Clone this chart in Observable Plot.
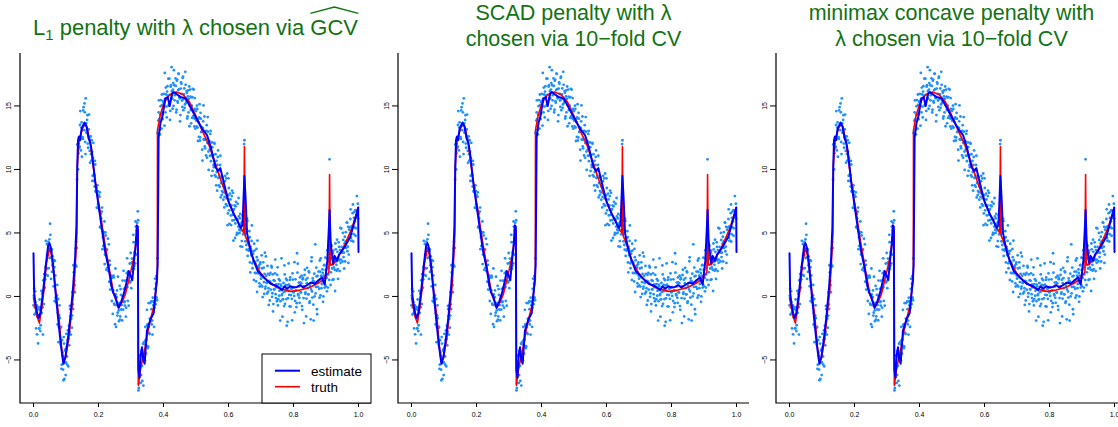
<!DOCTYPE html>
<html><head><meta charset="utf-8">
<script src="https://cdn.jsdelivr.net/npm/d3@7"></script>
<script src="https://cdn.jsdelivr.net/npm/@observablehq/plot@0.6"></script>
<style>
html,body{margin:0;padding:0;background:#fff;}
#wrap{position:relative;width:1118px;height:427px;overflow:hidden;font-family:"Liberation Sans",Arial,sans-serif;background:#fff;}
</style></head><body>
<div id="wrap"></div>
<script>
// ---------- data: observations (odd design points) ----------
const ptsX = [
.001,.003,.005,.007,.009,.011,.013,.015,.017,.019,
.021,.023,.025,.027,.029,.031,.033,.035,.037,.039,
.041,.043,.045,.047,.049,.051,.053,.055,.057,.059,
.061,.063,.065,.067,.069,.071,.073,.075,.077,.079,
.081,.083,.085,.087,.089,.091,.093,.095,.097,.099,
.101,.103,.105,.107,.109,.111,.113,.115,.117,.119,
.121,.123,.125,.127,.129,.131,.133,.135,.137,.139,
.141,.143,.145,.147,.149,.151,.153,.155,.157,.159,
.161,.163,.165,.167,.169,.171,.173,.175,.177,.179,
.181,.183,.185,.187,.189,.191,.193,.195,.197,.199,
.201,.203,.205,.207,.209,.211,.213,.215,.217,.219,
.221,.223,.225,.227,.229,.231,.233,.235,.237,.239,
.241,.243,.245,.247,.249,.251,.253,.255,.257,.259,
.261,.263,.265,.267,.269,.271,.273,.275,.277,.279,
.281,.283,.285,.287,.289,.291,.293,.295,.297,.299,
.301,.303,.305,.307,.309,.311,.313,.315,.317,.319,
.321,.323,.325,.327,.329,.331,.333,.335,.337,.339,
.341,.343,.345,.347,.349,.351,.353,.355,.357,.359,
.361,.363,.365,.367,.369,.371,.373,.375,.377,.379,
.381,.383,.385,.387,.389,.391,.393,.395,.397,.399,
.401,.403,.405,.407,.409,.411,.413,.415,.417,.419,
.421,.423,.425,.427,.429,.431,.433,.435,.437,.439,
.441,.443,.445,.447,.449,.451,.453,.455,.457,.459,
.461,.463,.465,.467,.469,.471,.473,.475,.477,.479,
.481,.483,.485,.487,.489,.491,.493,.495,.497,.499,
.501,.503,.505,.507,.509,.511,.513,.515,.517,.519,
.521,.523,.525,.527,.529,.531,.533,.535,.537,.539,
.541,.543,.545,.547,.549,.551,.553,.555,.557,.559,
.561,.563,.565,.567,.569,.571,.573,.575,.577,.579,
.581,.583,.585,.587,.589,.591,.593,.595,.597,.599,
.601,.603,.605,.607,.609,.611,.613,.615,.617,.619,
.621,.623,.625,.627,.629,.631,.633,.635,.637,.639,
.641,.643,.645,.647,.649,.651,.653,.655,.657,.659,
.661,.663,.665,.667,.669,.671,.673,.675,.677,.679,
.681,.683,.685,.687,.689,.691,.693,.695,.697,.699,
.701,.703,.705,.707,.709,.711,.713,.715,.717,.719,
.721,.723,.725,.727,.729,.731,.733,.735,.737,.739,
.741,.743,.745,.747,.749,.751,.753,.755,.757,.759,
.761,.763,.765,.767,.769,.771,.773,.775,.777,.779,
.781,.783,.785,.787,.789,.791,.793,.795,.797,.799,
.801,.803,.805,.807,.809,.811,.813,.815,.817,.819,
.821,.823,.825,.827,.829,.831,.833,.835,.837,.839,
.841,.843,.845,.847,.849,.851,.853,.855,.857,.859,
.861,.863,.865,.867,.869,.871,.873,.875,.877,.879,
.881,.883,.885,.887,.889,.891,.893,.895,.897,.899,
.901,.903,.905,.907,.909,.911,.913,.915,.917,.919,
.921,.923,.925,.927,.929,.931,.933,.935,.937,.939,
.941,.943,.945,.947,.949,.951,.953,.955,.957,.959,
.961,.963,.965,.967,.969,.971,.973,.975,.977,.979,
.981,.983,.985,.987,.989,.991,.993,.995,.997,.999];
const ptsY = [
0.06,-1.42,0.4,-1.28,-0.76,-2.98,-1.63,-0.98,-2.53,-0.24,
-2.73,-0.91,-1.3,0.23,-3.0,0.49,1.76,0.69,2.31,2.24,
4.13,2.2,3.27,2.23,4.5,5.73,3.07,3.6,1.93,3.16,
1.99,2.85,-0.35,1.65,-0.45,0.0,0.9,-1.3,-3.6,-1.5,
-1.7,-3.6,-2.4,-5.37,-4.41,-5.76,-3.2,-6.5,-4.26,-6.19,
-2.94,-4.73,-3.42,-5.51,-2.3,-2.8,-1.0,-3.0,-0.7,-1.51,
-0.63,2.46,1.24,0.33,2.51,4.3,3.82,11.98,10.01,12.04,
11.7,13.5,12.4,13.3,11.0,12.55,14.65,13.45,15.2,12.16,
15.6,12.89,13.9,12.04,12.58,14.32,11.46,12.3,11.2,12.3,
9.1,10.9,9.1,9.54,10.67,8.31,8.75,6.98,8.75,7.25,
6.95,7.85,5.45,6.52,5.36,7.0,5.14,3.98,5.05,2.55,
5.05,3.25,3.65,2.25,4.55,2.25,1.16,2.48,1.1,1.42,
-0.36,1.56,0.48,1.5,-0.65,-2.19,0.16,-0.69,0.47,-1.28,
-0.63,-1.95,0.84,-1.57,0.12,-0.68,-1.89,0.0,2.02,-0.45,
-0.72,0.7,-0.89,1.83,0.74,1.95,-0.73,1.88,1.09,3.42,
0.65,2.98,2.22,4.85,2.18,3.5,2.6,5.5,4.1,5.8,
6.7,-7.4,-6.83,-4.66,-5.59,-6.19,-4.37,-6.65,-3.73,-4.81,
-3.75,-5.05,-3.45,-3.85,-1.05,-2.18,-3.94,-2.4,-2.96,-0.52,
-1.8,-1.0,-1.9,-0.1,-0.7,-2.4,0.6,-0.1,1.0,-0.1,
3.0,12.81,14.49,13.98,12.76,14.98,14.34,15.9,13.96,15.32,
15.95,13.45,15.55,16.45,14.95,16.13,15.59,17.15,15.01,15.87,
14.61,16.63,18.05,15.57,16.29,15.01,16.63,15.85,17.17,14.49,
16.99,15.37,16.25,17.53,15.71,13.79,16.37,16.75,15.43,17.21,
14.67,15.91,14.85,17.69,15.23,16.17,14.01,15.75,14.49,16.53,
15.05,15.74,13.63,15.02,15.7,14.2,16.29,13.38,14.77,13.96,
13.84,15.02,13.3,13.98,12.56,15.14,12.52,14.0,12.98,11.56,
13.25,15.04,12.33,11.82,13.01,11.1,13.49,12.08,12.97,9.96,
12.23,11.08,13.03,11.08,12.13,9.88,11.13,10.18,12.03,10.38,
9.43,10.68,8.33,10.98,9.33,9.88,8.63,11.08,8.93,7.98,
9.43,8.19,8.65,7.01,9.07,8.13,9.29,7.15,5.61,7.97,
8.54,5.72,8.1,6.38,7.16,8.34,6.42,4.4,6.88,7.16,
5.75,7.45,4.85,6.05,4.95,7.75,5.25,6.15,3.95,5.65,
4.36,6.37,4.89,5.6,12.3,4.9,5.57,4.05,6.12,3.19,
4.56,3.72,4.66,1.89,3.73,4.37,2.61,3.54,2.78,4.15,
1.86,2.57,1.18,3.09,4.4,1.81,2.42,1.03,2.54,1.65,
0.87,2.21,-0.05,2.69,1.13,1.77,0.61,3.15,1.09,0.23,
1.78,0.65,1.22,-0.32,1.85,1.02,2.28,0.25,-1.18,1.28,
0.55,1.82,0.18,0.95,-0.38,2.29,-0.22,1.36,0.45,-1.9,
0.92,3.0,0.19,-0.23,1.06,-0.76,1.73,0.41,1.4,-2.3,
0.87,-0.15,2.6,0.12,1.31,-0.8,0.61,-0.19,1.82,0.33,
0.34,2.7,-0.35,0.46,-0.84,3.4,2.58,0.08,0.79,-0.5,
1.11,0.32,1.63,-1.05,1.46,-0.13,0.79,2.1,0.31,-1.57,
1.04,1.45,0.17,1.98,-0.51,0.81,-1.8,2.77,0.39,1.42,
-0.65,1.17,0.0,4.1,0.75,1.58,-1.4,1.13,1.96,0.59,
2.83,0.08,1.63,0.98,2.13,-0.42,1.63,2.48,0.93,2.08,
2.13,0.4,2.97,1.73,2.8,10.8,2.9,1.9,4.0,2.2,
3.4,1.34,2.82,2.1,4.17,2.75,2.03,3.51,1.38,4.26,
2.85,3.65,2.65,5.35,3.45,2.75,4.45,3.45,4.15,2.75,
5.06,4.38,5.8,3.92,2.64,5.26,4.68,6.1,4.62,5.54,
4.38,7.24,4.9,6.66,5.92,4.78,6.74,7.9,6.36,6.12];

// ---------- data: observations (even design points) ----------
const ptsX2 = [
.000,.002,.004,.006,.008,.010,.012,.014,.016,.018,
.020,.022,.024,.026,.028,.030,.032,.034,.036,.038,
.040,.042,.044,.046,.048,.050,.052,.054,.056,.058,
.060,.062,.064,.066,.068,.070,.072,.074,.076,.078,
.080,.082,.084,.086,.088,.090,.092,.094,.096,.098,
.100,.102,.104,.106,.108,.110,.112,.114,.116,.118,
.120,.122,.124,.126,.128,.130,.132,.134,.136,.138,
.140,.142,.144,.146,.148,.150,.152,.154,.156,.158,
.160,.162,.164,.166,.168,.170,.172,.174,.176,.178,
.180,.182,.184,.186,.188,.190,.192,.194,.196,.198,
.200,.202,.204,.206,.208,.210,.212,.214,.216,.218,
.220,.222,.224,.226,.228,.230,.232,.234,.236,.238,
.240,.242,.244,.246,.248,.250,.252,.254,.256,.258,
.260,.262,.264,.266,.268,.270,.272,.274,.276,.278,
.280,.282,.284,.286,.288,.290,.292,.294,.296,.298,
.300,.302,.304,.306,.308,.310,.312,.314,.316,.318,
.320,.322,.324,.326,.328,.330,.332,.334,.336,.338,
.340,.342,.344,.346,.348,.350,.352,.354,.356,.358,
.360,.362,.364,.366,.368,.370,.372,.374,.376,.378,
.380,.382,.384,.386,.388,.390,.392,.394,.396,.398,
.400,.402,.404,.406,.408,.410,.412,.414,.416,.418,
.420,.422,.424,.426,.428,.430,.432,.434,.436,.438,
.440,.442,.444,.446,.448,.450,.452,.454,.456,.458,
.460,.462,.464,.466,.468,.470,.472,.474,.476,.478,
.480,.482,.484,.486,.488,.490,.492,.494,.496,.498,
.500,.502,.504,.506,.508,.510,.512,.514,.516,.518,
.520,.522,.524,.526,.528,.530,.532,.534,.536,.538,
.540,.542,.544,.546,.548,.550,.552,.554,.556,.558,
.560,.562,.564,.566,.568,.570,.572,.574,.576,.578,
.580,.582,.584,.586,.588,.590,.592,.594,.596,.598,
.600,.602,.604,.606,.608,.610,.612,.614,.616,.618,
.620,.622,.624,.626,.628,.630,.632,.634,.636,.638,
.640,.642,.644,.646,.648,.650,.652,.654,.656,.658,
.660,.662,.664,.666,.668,.670,.672,.674,.676,.678,
.680,.682,.684,.686,.688,.690,.692,.694,.696,.698,
.700,.702,.704,.706,.708,.710,.712,.714,.716,.718,
.720,.722,.724,.726,.728,.730,.732,.734,.736,.738,
.740,.742,.744,.746,.748,.750,.752,.754,.756,.758,
.760,.762,.764,.766,.768,.770,.772,.774,.776,.778,
.780,.782,.784,.786,.788,.790,.792,.794,.796,.798,
.800,.802,.804,.806,.808,.810,.812,.814,.816,.818,
.820,.822,.824,.826,.828,.830,.832,.834,.836,.838,
.840,.842,.844,.846,.848,.850,.852,.854,.856,.858,
.860,.862,.864,.866,.868,.870,.872,.874,.876,.878,
.880,.882,.884,.886,.888,.890,.892,.894,.896,.898,
.900,.902,.904,.906,.908,.910,.912,.914,.916,.918,
.920,.922,.924,.926,.928,.930,.932,.934,.936,.938,
.940,.942,.944,.946,.948,.950,.952,.954,.956,.958,
.960,.962,.964,.966,.968,.970,.972,.974,.976,.978,
.980,.982,.984,.986,.988,.990,.992,.994,.996,.998];
const ptsY2 = [
-0.7,0.62,-0.86,-0.44,-2.52,-0.7,-1.45,-3.7,-0.85,-2.5,
-1.09,-2.27,0.44,-0.79,-0.86,1.27,-0.6,1.33,1.35,4.38,
1.7,3.27,1.63,4.3,3.77,3.02,4.85,1.38,3.71,2.44,
2.57,0.8,2.3,2.8,-0.1,-0.1,0.1,-2.2,-0.2,-2.4,
-0.7,-2.5,-3.8,-5.7,-3.44,-4.69,-6.6,-3.71,-5.24,-4.17,
-5.2,-3.99,-5.38,-2.67,-3.36,-3.85,-0.75,-1.55,-1.75,-2.46,
0.33,-0.98,1.9,0.89,2.37,3.76,2.36,9.2,11.95,11.28,
12.5,11.8,14.6,11.5,13.7,13.1,12.4,14.9,13.1,14.5,
11.21,13.63,13.04,14.27,11.71,13.15,12.39,10.53,12.6,10.7,
11.4,9.5,12.1,9.62,8.65,10.39,8.23,8.56,7.0,8.3,
8.0,6.8,8.2,5.5,6.14,6.68,3.72,4.66,5.0,5.9,
3.3,4.8,2.1,3.7,2.8,2.0,4.1,2.82,0.54,1.66,
0.88,1.5,-1.38,1.64,-0.57,0.08,2.2,-2.4,-0.06,-1.51,
1.55,-1.1,-0.51,-1.82,0.58,-1.03,-0.44,1.25,-1.04,0.59,
-0.39,1.24,-1.59,0.72,3.0,-0.35,1.66,1.17,2.59,1.2,
2.63,1.27,2.7,2.23,4.27,2.4,3.4,5.9,3.3,5.2,
4.5,6.0,-7.2,-6.35,-5.47,-6.8,-4.28,-5.46,-4.74,-7.02,
-3.6,-4.6,-2.4,-4.5,-3.4,-2.3,-4.06,-0.52,-2.88,-1.74,
-2.0,-0.4,-2.2,-3.0,-0.4,-0.7,-0.9,1.4,-0.6,1.6,
-0.3,12.87,13.85,15.44,13.12,14.3,15.46,13.22,15.08,14.34,
15.4,15.0,17.6,14.5,15.9,14.1,16.56,15.82,15.08,17.14,
13.9,16.52,15.64,16.16,14.78,16.8,17.82,15.44,15.96,16.58,
14.7,17.08,15.26,17.54,16.32,15.6,14.28,16.86,15.94,14.92,
17.3,15.54,16.38,15.12,16.66,15.4,16.04,14.18,16.22,15.56,
13.4,16.29,14.68,15.67,14.06,16.35,14.64,14.03,15.62,13.21,
14.6,13.38,14.76,12.24,13.72,14.1,12.28,14.46,12.94,13.32,
10.7,13.79,12.38,14.17,11.66,12.35,13.04,10.93,14.12,11.41,
12.2,11.55,12.8,10.65,9.5,11.75,11.1,10.35,12.1,9.55,
11.2,8.75,9.8,10.35,11.5,8.75,9.5,10.35,7.8,9.35,
8.3,9.36,7.62,8.68,7.84,9.5,7.26,7.72,9.68,6.54,
9.3,6.78,7.16,7.64,5.62,7.9,5.98,8.16,6.84,6.02,
4.6,7.1,6.1,5.0,7.3,5.5,6.3,5.0,6.5,5.2,
5.8,3.91,5.93,5.24,12.0,6.0,4.34,5.31,3.68,5.95,
4.22,3.6,5.14,2.68,3.91,3.25,5.59,2.22,3.36,1.3,
3.61,2.72,1.83,3.74,0.35,2.85,1.86,2.27,0.78,2.69,
1.4,3.24,0.78,1.52,2.26,0.2,3.44,0.78,1.62,1.06,
2.4,0.37,-0.67,1.7,1.17,0.53,2.4,-0.03,1.73,-0.6,
0.57,1.23,2.9,-0.13,0.73,1.7,-0.71,0.97,0.06,1.24,
-0.37,0.81,0.1,-1.6,-0.23,0.35,2.44,-0.58,0.91,-0.21,
1.28,-2.0,0.45,0.93,-0.78,1.5,0.11,0.61,-1.88,1.33,
0.73,0.04,-1.25,1.35,0.46,-0.53,1.87,0.18,1.09,-0.11,
1.5,0.31,1.03,-0.76,1.35,0.77,-2.1,1.69,0.21,1.32,
-0.17,2.25,0.66,0.17,1.89,-0.4,1.03,0.55,3.08,-0.09,
1.23,-1.9,1.79,1.01,0.24,2.27,-1.01,1.62,0.75,1.27,
-0.1,1.95,3.0,0.65,1.2,1.85,0.0,2.45,0.7,3.05,
0.8,1.47,3.63,0.7,2.27,1.3,3.3,0.9,2.5,3.0,
1.3,3.6,2.28,2.86,0.43,3.71,2.49,4.47,2.14,3.02,
3.9,2.0,5.4,2.9,3.9,3.5,5.0,3.1,2.2,4.7,
4.3,3.82,5.84,3.56,5.48,3.3,4.62,5.44,6.86,4.38,
5.4,6.56,4.32,6.18,5.44,6.8,5.36,6.72,6.18,7.3];

// ---------- data: true function ----------
const truthX = [0,.010,.018,.025,.032,.040,.049,.055,.062,.070,
.078,.086,.093,.100,.109,.117,.124,.131,.1335,.1345,
.140,.150,.158,.165,.175,.185,.196,.206,.216,.232,
.247,.262,.275,.283,.298,.310,.320,.322,.3225,.330,
.340,.350,.360,.370,.380,.381,.3815,.390,.400,.410,
.420,.440,.460,.480,.500,.520,.540,.560,.580,.600,
.620,.640,.647,.649,.651,.662,.678,.700,.720,.750,
.790,.820,.850,.880,.900,.909,.911,.913,.922,.940,
.960,.980,1.0];
const truthY = [-0.1,-1.5,-2.1,-1.0,0.5,2.6,3.8,3.3,2.0,0.0,
-1.6,-4.0,-5.2,-4.6,-3.2,-1.2,0.5,3.6,5.0,10.2,
12.2,13.2,13.6,13.3,12.0,10.0,8.0,6.5,4.7,2.3,
0.2,-0.9,-0.3,0.2,1.8,3.2,5.2,5.2,-7.0,-5.6,
-4.5,-3.0,-1.8,-0.8,1.2,1.3,13.1,14.3,15.1,15.6,
15.9,16.1,15.9,15.3,14.2,13.0,11.9,10.4,8.9,7.5,
6.3,5.3,5.0,11.8,4.8,4.1,2.8,1.8,1.2,0.7,
0.4,0.5,0.7,1.1,1.6,1.9,9.6,2.5,2.5,3.2,
4.2,5.4,7.0];

// ---------- data: estimate ----------
const estX = [0,.002,.006,.012,.016,.022,.030,.038,.045,.049,
.054,.060,.068,.076,.084,.092,.098,.106,.114,.122,
.128,.132,.135,.137,.140,.143,.148,.157,.163,.170,
.175,.180,.190,.200,.210,.220,.230,.240,.245,.250,
.255,.262,.270,.280,.287,.293,.304,.310,.314,.318,
.321,.3225,.326,.330,.334,.338,.342,.349,.360,.370,
.379,.382,.385,.391,.396,.406,.413,.419,.427,.432,
.452,.468,.483,.504,.519,.534,.545,.560,.567,.575,
.586,.601,.616,.627,.637,.643,.649,.653,.657,.662,
.670,.678,.690,.709,.730,.750,.765,.772,.780,.790,
.800,.811,.820,.830,.842,.855,.865,.878,.888,.893,
.896,.904,.909,.911,.914,.917,.922,.926,.929,.934,
.940,.955,.975,.994,.999,1.0];
const estY = [3.4,0.3,-0.6,-1.4,-1.7,-1.2,0.5,2.5,4.0,4.2,
3.8,2.5,0.3,-1.8,-3.8,-5.3,-4.8,-3.3,-1.5,0.8,
3.0,5.5,10.5,12.3,12.6,12.3,13.2,13.7,13.4,12.4,
12.1,11.3,9.0,7.2,5.4,3.6,2.4,0.8,0.3,0.1,
-0.3,-0.9,-0.4,0.4,1.2,2.0,1.3,3.0,3.9,5.6,
5.5,-5.8,-6.4,-4.6,-4.0,-5.0,-5.3,-2.7,-1.8,-1.3,
1.2,2.5,12.5,13.7,14.1,15.6,15.7,15.0,16.0,16.1,
15.7,15.6,14.9,13.9,13.2,12.7,11.8,10.2,9.9,10.1,
8.9,7.4,6.5,6.0,5.4,5.6,9.5,7.5,5.0,4.3,
3.4,2.8,2.0,1.5,1.0,0.8,0.5,0.8,0.6,0.8,
0.7,0.75,0.9,0.7,0.9,1.1,1.0,1.3,1.5,1.1,
0.95,2.8,5.5,6.8,4.5,3.6,2.6,3.2,3.1,2.8,
3.3,3.8,4.7,6.5,7.0,3.5];

const xTicks = [0, 0.2, 0.4, 0.6, 0.8, 1.0];
const yTicks = [-5, 0, 5, 10, 15];
const xDomain = [-0.04, 1.04];
const yDomain = [-8.43, 19.13];
const titleLines = [
  ["L", "1", " penalty with λ chosen via ", "GCV"],
  ["SCAD penalty with λ", "chosen via 10−fold CV"],
  ["minimax concave penalty with", "λ chosen via 10−fold CV"]
];
const legendLabels = ["estimate", "truth"];

// ---------- build ----------
const points = ptsX.map((x, i) => ({x, y: ptsY[i]}))
  .concat(ptsX2.map((x, i) => ({x, y: ptsY2[i]})));
const truth = truthX.map((x, i) => ({x, y: truthY[i]}));
const estimate = estX.map((x, i) => ({x, y: estY[i]}));
const fmtY = d => d < 0 ? "\u2212" + Math.abs(d) : String(d);
const FONT = "Liberation Sans, Arial, Helvetica, sans-serif";
const GREEN = "#137313";
const PW = 378;

const wrap = document.getElementById("wrap");

function makePanel() {
  const p = Plot.plot({
    width: PW, height: 427,
    marginLeft: 20, marginRight: 7, marginTop: 53, marginBottom: 24,
    x: {domain: xDomain, axis: null, label: null},
    y: {domain: yDomain, axis: null, label: null},
    style: {fontFamily: FONT, background: "transparent", overflow: "visible", color: "#000"},
    marks: [
      Plot.dot(points, {x: "x", y: "y", r: 1.4, fill: "#1E90FF", stroke: "none"}),
      Plot.line(truth, {x: "x", y: "y", stroke: "#ff0000", strokeWidth: 1.6}),
      Plot.line(estimate, {x: "x", y: "y", stroke: "#0000ff", strokeWidth: 2}),
      Plot.axisX({ticks: xTicks, anchor: "bottom", tickSize: 4, tickPadding: 5, tickFormat: d3.format(".1f"), fontSize: 7, label: null}),
      Plot.axisY({ticks: yTicks, anchor: "left", tickSize: 6, tickFormat: () => "", label: null}),
      Plot.text(yTicks, {y: d => d, text: fmtY, frameAnchor: "left", dx: -12, rotate: -90, fontSize: 7, textAnchor: "middle", lineAnchor: "middle", fill: "#000"})
    ]
  });
  const xr = p.scale("x").range, yr = p.scale("y").range;
  d3.select(p).append("path")
    .attr("d", `M${xr[0]},${yr[1]}V${yr[0]}H${xr[1]}`)
    .attr("fill", "none").attr("stroke", "#000").attr("stroke-width", 1.2);
  return p;
}

const centers = [];
for (let i = 0; i < 3; i++) {
  const p = makePanel();
  p.style.position = "absolute";
  p.style.left = (i * PW) + "px";
  p.style.top = "0px";
  wrap.appendChild(p);
  const xr = p.scale("x").range;
  centers.push(i * PW + (xr[0] + xr[1]) / 2);
}

// overlay: titles + legend
const ov = d3.select(wrap).append("svg")
  .attr("width", 1118).attr("height", 427)
  .style("position", "absolute").style("left", "0px").style("top", "0px")
  .style("font-family", FONT);

{
  const t = ov.append("text").attr("y", 35).attr("font-size", 22).attr("fill", GREEN);
  t.append("tspan").text(titleLines[0][0]);
  t.append("tspan").attr("font-size", 15).attr("dy", 5).text(titleLines[0][1]);
  t.append("tspan").attr("dy", -5).text(titleLines[0][2]);
  const g = t.append("tspan").text(titleLines[0][3]);
  const w = t.node().getComputedTextLength();
  t.attr("x", centers[0] - w / 2);
  const bb = g.node().getBBox();
  ov.append("path")
    .attr("d", `M${bb.x},13.3L${bb.x + bb.width / 2},7L${bb.x + bb.width},13.3`)
    .attr("fill", "none").attr("stroke", GREEN).attr("stroke-width", 1.3);
}
for (let i = 1; i < 3; i++) {
  titleLines[i].forEach((line, j) => {
    ov.append("text").attr("x", centers[i]).attr("y", 19.5 + 26.5 * j)
      .attr("text-anchor", "middle").attr("font-size", 21.5).attr("fill", GREEN)
      .text(line);
  });
}

{
  const lg = ov.append("g");
  lg.append("rect").attr("x", 262).attr("y", 354).attr("width", 109).attr("height", 49)
    .attr("fill", "#fff").attr("stroke", "#000").attr("stroke-width", 1);
  const cols = ["#0000ff", "#ff0000"], widths = [2, 1.6];
  legendLabels.forEach((lab, k) => {
    const yy = 370.7 + 16 * k;
    lg.append("line").attr("x1", 275).attr("x2", 300).attr("y1", yy).attr("y2", yy)
      .attr("stroke", cols[k]).attr("stroke-width", widths[k]);
    lg.append("text").attr("x", 311).attr("y", yy + 4.8).attr("font-size", 13.5).attr("fill", "#000").text(lab);
  });
}
</script>
</body></html>
